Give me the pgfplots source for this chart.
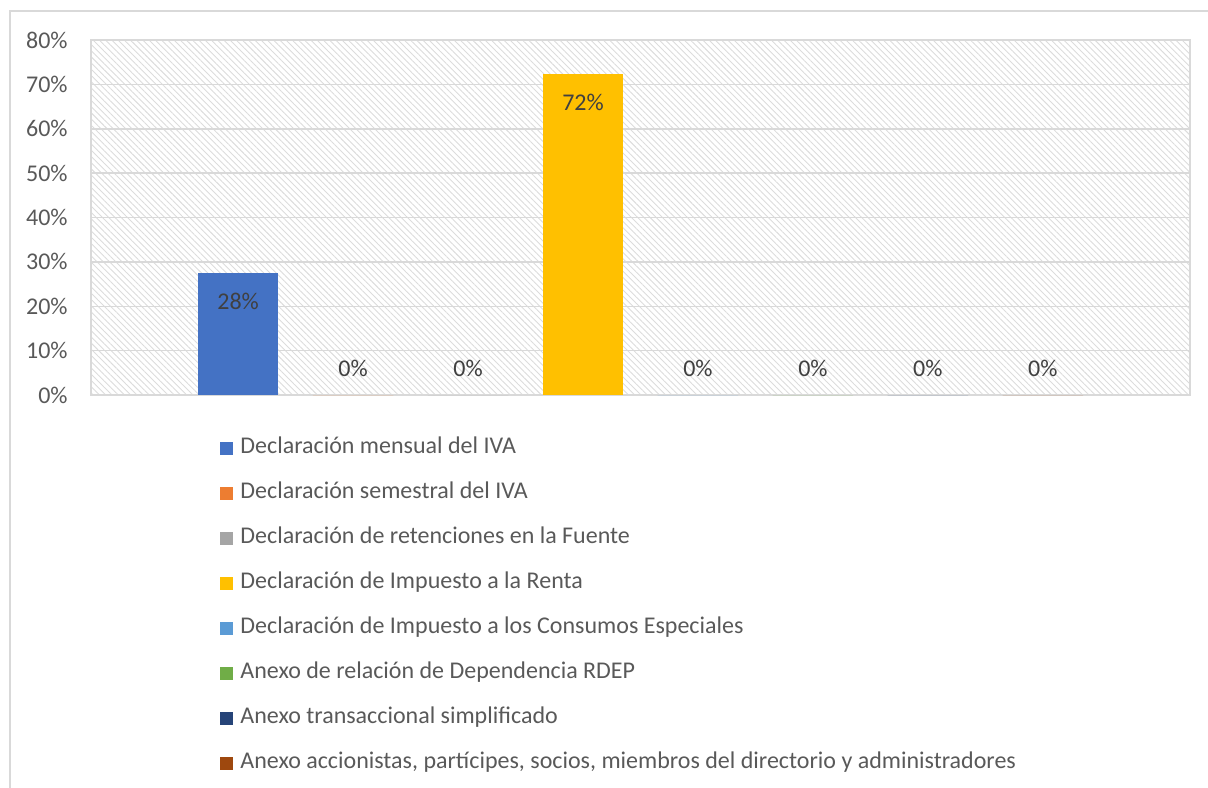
\documentclass[border=0pt]{standalone}
\usepackage{pgfplots}
\pgfplotsset{compat=1.18}
\usepackage{fontspec}
\setmainfont{Carlito}
\usetikzlibrary{patterns,patterns.meta}
\definecolor{c1}{HTML}{4472C4}
\definecolor{c2}{HTML}{ED7D31}
\definecolor{c3}{HTML}{A5A5A5}
\definecolor{c4}{HTML}{FFC000}
\definecolor{c5}{HTML}{5B9BD5}
\definecolor{c6}{HTML}{70AD47}
\definecolor{c7}{HTML}{264478}
\definecolor{c8}{HTML}{9E480E}
\definecolor{gridc}{HTML}{D9D9D9}
\definecolor{hatchc}{HTML}{DCDCDC}
\definecolor{txt}{HTML}{595959}
\definecolor{lab}{HTML}{404040}
\begin{document}
\begin{tikzpicture}
\useasboundingbox (-45.5pt,-196pt) rectangle (558.5pt,197.5pt);
\draw[color=gridc, line width=0.75pt] (-40.5pt,-200pt) -- (-40.5pt,192pt) -- (570pt,192pt);
\begin{axis}[
  at={(0,0)}, anchor=south west,
  scale only axis, width=549.5pt, height=177.5pt,
  xmin=-0.28, xmax=9.28, ymin=0, ymax=80,
  ytick={0,10,...,80}, xtick=\empty,
  ymajorgrids, grid style={color=gridc, line width=0.75pt},
  axis line style={color=gridc, line width=0.75pt},
  major tick length=0pt,
  axis background/.style={pattern={Lines[angle=-45,distance=2.2pt,line width=0.45pt]}, pattern color=hatchc},
  /pgf/number format/assume math mode=true,
  yticklabel={\pgfmathprintnumber{\tick}\%},
  yticklabel style={anchor=east, inner sep=0pt, xshift=-11.5pt, text=txt},
  font=\fontsize{12}{14}\selectfont,
  ybar, bar width=0.7,
  nodes near coords={\pgfmathprintnumber[fixed,precision=0]{\pgfplotspointmeta}\%},
  every node near coord/.append style={text=lab, font=\fontsize{12}{14}\selectfont, anchor=center},
  legend image code/.code={\fill[#1] (0pt,-3.25pt) rectangle (6.5pt,3.25pt);},
  legend style={draw=none, fill=none, at={(axis description cs:0.1174,-0.118)}, anchor=north west,
    inner sep=0pt, row sep=11.5pt, text=txt,
    nodes={inner sep=0pt, text height=8pt, text depth=3pt, anchor=west},
    font=\fontsize{12}{14}\selectfont},
  legend cell align=left,
  up/.style={every node near coord/.append style={yshift=13.25pt}},
  dn/.style={every node near coord/.append style={yshift=-14.25pt}},
]
\addplot[draw=none, fill=c1, bar shift=0pt, dn] coordinates {(1,27.6)};
\addplot[draw=none, fill=c2, bar shift=0pt, up] coordinates {(2,0)};
\addplot[draw=none, fill=c3, bar shift=0pt, up] coordinates {(3,0)};
\addplot[draw=none, fill=c4, bar shift=0pt, dn] coordinates {(4,72.4)};
\addplot[draw=none, fill=c5, bar shift=0pt, up] coordinates {(5,0)};
\addplot[draw=none, fill=c6, bar shift=0pt, up] coordinates {(6,0)};
\addplot[draw=none, fill=c7, bar shift=0pt, up] coordinates {(7,0)};
\addplot[draw=none, fill=c8, bar shift=0pt, up] coordinates {(8,0)};
\legend{{\hspace{3.5pt}Declaración mensual del IVA},
{\hspace{3.5pt}Declaración semestral del IVA},
{\hspace{3.5pt}Declaración de retenciones en la Fuente},
{\hspace{3.5pt}Declaración de Impuesto a la Renta},
{\hspace{3.5pt}Declaración de Impuesto a los Consumos Especiales},
{\hspace{3.5pt}Anexo de relación de Dependencia RDEP},
{\hspace{3.5pt}Anexo transaccional simplificado},
{\hspace{3.5pt}Anexo accionistas, partícipes, socios, miembros del directorio y administradores}}
\end{axis}
\end{tikzpicture}
\end{document}
